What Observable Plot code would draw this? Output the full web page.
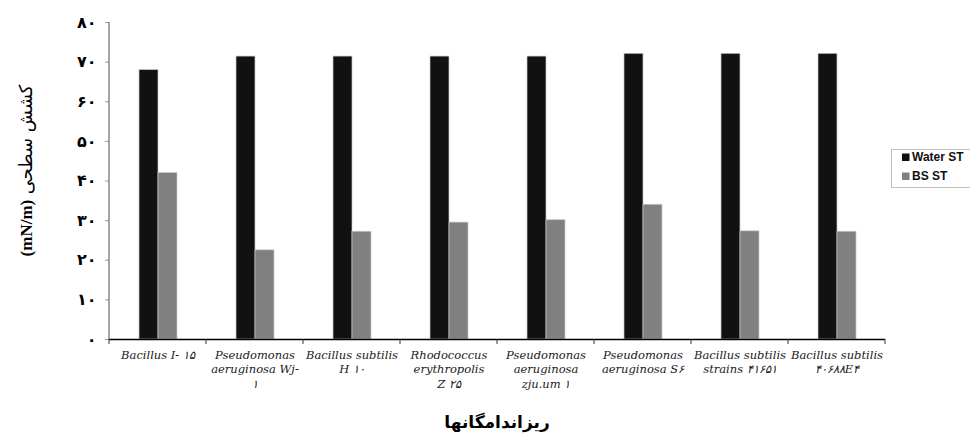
<!DOCTYPE html>
<html>
<head>
<meta charset="utf-8">
<script src="https://cdn.jsdelivr.net/npm/d3@7"></script>
<script src="https://cdn.jsdelivr.net/npm/@observablehq/plot@0.6"></script>
<style>
  body { margin: 0; background: #fff; }
  #chart { position: relative; width: 970px; height: 435px; overflow: hidden; }
</style>
</head>
<body>
<div id="chart"></div>
<script>
// ---- data ----
const categories = [
  "Bacillus I- ۱۵",
  "Pseudomonas\naeruginosa Wj-\n۱",
  "Bacillus subtilis\nH ۱۰",
  "Rhodococcus\nerythropolis\nZ ۲۵",
  "Pseudomonas\naeruginosa\nzju.um ۱",
  "Pseudomonas\naeruginosa S۶",
  "Bacillus subtilis\nstrains ۴۱۶۵۱",
  "Bacillus subtilis\n۴۰۶۸۸E۴"
];
const seriesNames = ["Water ST", "BS ST"];
const waterST = [68.0, 71.4, 71.4, 71.4, 71.4, 72.1, 72.1, 72.1];
const bsST = [42.0, 22.5, 27.2, 29.5, 30.1, 34.0, 27.3, 27.2];
const yTicks = [0, 10, 20, 30, 40, 50, 60, 70, 80];
const seriesColors = ["#111111", "#808080"];
const yTitlePersian = "کشش سطحی";
const yTitleUnit = "(mN/m)";
const xTitle = "ریزاندامگانها";

const toFa = s => String(s).replace(/\d/g, d => "۰۱۲۳۴۵۶۷۸۹"[+d]);

const rows = categories.flatMap((c, i) => [
  {category: c, series: seriesNames[0], value: waterST[i]},
  {category: c, series: seriesNames[1], value: bsST[i]}
]);

const W = 970, H = 435, mL = 108, mR = 84, mT = 22, mB = 96;

const plot = Plot.plot({
  width: W, height: H,
  marginLeft: mL, marginRight: mR, marginTop: mT, marginBottom: mB,
  style: {fontFamily: "'DejaVu Sans', sans-serif", background: "#fff", color: "#000"},
  facet: {data: rows, x: "category"},
  fx: {domain: categories, padding: 0, label: null},
  x: {domain: seriesNames, paddingInner: 0, paddingOuter: 1.52, axis: null},
  y: {domain: [0, 80], label: null},
  color: {domain: seriesNames, range: seriesColors},
  marks: [
    Plot.barY(rows, {x: "series", y: "value", fill: "series", stroke: "#c8c8c8", strokeWidth: 0.7}),
    Plot.ruleY([0], {stroke: "#000", strokeWidth: 1.5}),
    Plot.axisY(yTicks, {tickFormat: toFa, tickSize: 4, tickPadding: 9, fontSize: 16, fontWeight: "bold",
      stroke: "#999", fill: "#000", label: null}),
    Plot.axisFx({anchor: "bottom", tickSize: 0, tickPadding: 10, fontSize: 11.5, lineHeight: 1.22,
      fontFamily: "'DejaVu Serif', serif", fontStyle: "italic", fill: "#1a1a1a", label: null})
  ]
});

document.getElementById("chart").appendChild(plot);

const svg = d3.select(plot);
const fx = plot.scale("fx");
const y = plot.scale("y");
const color = plot.scale("color");
const y0 = y.apply(0), yTop = y.apply(80);
const xStart = fx.apply(categories[0]);
const xEnd = fx.apply(categories[categories.length - 1]) + fx.bandwidth;

// y axis line
svg.append("line")
  .attr("x1", xStart).attr("x2", xStart).attr("y1", yTop).attr("y2", y0)
  .attr("stroke", "#888").attr("stroke-width", 1.5);

// boundary ticks on x axis
const bounds = categories.map(c => fx.apply(c)).concat([xEnd]);
svg.append("g").selectAll("line").data(bounds).join("line")
  .attr("x1", d => d).attr("x2", d => d).attr("y1", y0).attr("y2", y0 + 5)
  .attr("stroke", "#333").attr("stroke-width", 1);

// y title
const yt = svg.append("text")
  .attr("transform", `translate(32,${(yTop + y0) / 2 - 10}) rotate(-90)`)
  .attr("text-anchor", "middle")
  .attr("direction", "rtl")
  .attr("font-size", 17)
  .attr("fill", "#000");
yt.append("tspan").attr("font-family", "'DejaVu Sans', sans-serif").attr("font-weight", "normal").attr("font-size", 18).text(yTitlePersian);
yt.append("tspan").text(" ");
yt.append("tspan").attr("font-family", "'Liberation Serif', serif").attr("font-weight", "bold").text(yTitleUnit);

// x title
svg.append("text")
  .attr("x", (xStart + xEnd) / 2).attr("y", 428)
  .attr("text-anchor", "middle")
  .attr("direction", "rtl")
  .attr("font-family", "'DejaVu Sans', sans-serif")
  .attr("font-weight", "bold").attr("font-size", 17)
  .attr("fill", "#000")
  .text(xTitle);

// legend
const lg = svg.append("g").attr("transform", "translate(891.5,149.5)");
lg.append("rect").attr("width", 90).attr("height", 38)
  .attr("fill", "#fff").attr("stroke", "#c0c0c0");
seriesNames.forEach((s, i) => {
  lg.append("rect").attr("x", 10.5).attr("y", 4 + i * 19).attr("width", 7.5).attr("height", 7.5)
    .attr("fill", color.apply(s));
  lg.append("text").attr("x", 20.5).attr("y", 11.5 + i * 19)
    .attr("text-anchor", "start")
    .attr("font-family", "'Liberation Sans', Arial, sans-serif")
    .attr("font-weight", "bold").attr("font-size", 12).attr("fill", "#111")
    .text(s);
});
</script>
</body>
</html>
